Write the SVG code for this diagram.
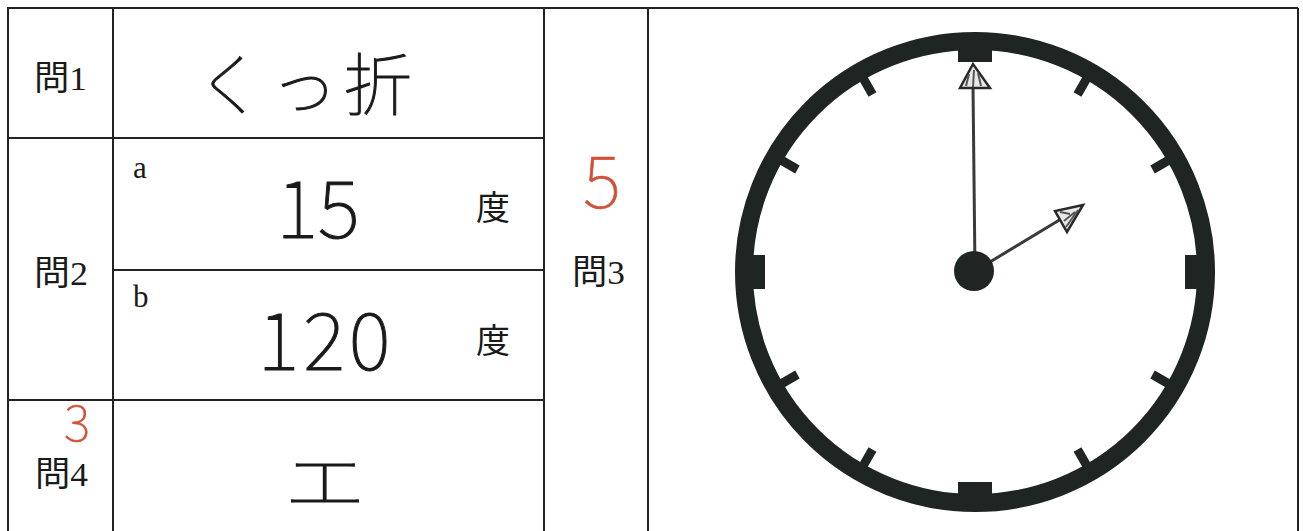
<svg xmlns="http://www.w3.org/2000/svg" width="1303" height="531" viewBox="0 0 1303 531">
<style>
.ln{stroke:#222;stroke-width:2;fill:none}
.lbl{font-family:"Liberation Serif","Noto Sans CJK JP",serif;font-size:34px;fill:#1a1a1a}
.sm{font-family:"Liberation Serif",serif;font-size:31px;fill:#1a1a1a}
.hw{font-family:"Noto Sans CJK JP","Noto Sans",sans-serif;font-weight:100;fill:#1a1a1a;stroke:#1a1a1a;stroke-width:1}
.red{font-family:"Noto Sans CJK JP","Noto Sans",sans-serif;font-weight:100;fill:#d0503a;stroke:#d0503a;stroke-width:0.6}
.dk{fill:#1f2523}
.hand{stroke:#3a3a3a;stroke-width:3;fill:none}
</style>
<rect width="1303" height="531" fill="#ffffff"/>
<g id="grid">
<line class="ln" x1="7" y1="8" x2="1298" y2="8"/>
<line class="ln" x1="8" y1="8" x2="8" y2="531"/>
<line class="ln" x1="113" y1="8" x2="113" y2="531"/>
<line class="ln" x1="544" y1="8" x2="544" y2="531"/>
<line class="ln" x1="648" y1="8" x2="648" y2="531"/>
<line class="ln" x1="1298" y1="8" x2="1298" y2="531"/>
<line class="ln" x1="8" y1="138" x2="544" y2="138"/>
<line class="ln" x1="113" y1="270" x2="544" y2="270"/>
<line class="ln" x1="8" y1="400" x2="544" y2="400"/>
</g>
<g id="q1">
<text class="lbl" x="34" y="90" textLength="53" lengthAdjust="spacingAndGlyphs">問1</text>
<text class="hw" x="307" y="110" font-size="68" text-anchor="middle" letter-spacing="6">くっ折</text>
</g>
<g id="q2">
<text class="lbl" x="34" y="285" textLength="54" lengthAdjust="spacingAndGlyphs">問2</text>
<text class="sm" x="133" y="178">a</text>
<text class="sm" x="133" y="307">b</text>
<text class="hw" x="318" y="238" font-size="80" text-anchor="middle">15</text>
<text class="hw" x="326" y="370" font-size="80" text-anchor="middle" letter-spacing="4">120</text>
<text class="lbl" x="493" y="220" font-size="32" text-anchor="middle">度</text>
<text class="lbl" x="493" y="353" font-size="32" text-anchor="middle">度</text>
</g>
<g id="q3">
<text class="red" x="602" y="208" font-size="72" text-anchor="middle">5</text>
<text class="lbl" x="572" y="284" textLength="53" lengthAdjust="spacingAndGlyphs">問3</text>
</g>
<g id="q4">
<text class="red" x="77" y="441" font-size="50" text-anchor="middle">3</text>
<text class="lbl" x="35" y="486" textLength="53" lengthAdjust="spacingAndGlyphs">問4</text>
<text class="hw" x="284" y="505" font-size="64" textLength="82" lengthAdjust="spacingAndGlyphs">エ</text>
</g>
<g id="clock">
<circle cx="975" cy="272" r="231" fill="none" stroke="#1f2523" stroke-width="18"/>
<g transform="translate(975,272)" class="dk">
<rect x="-17" y="-226" width="34" height="16"/>
<rect x="-17" y="-226" width="34" height="16" transform="rotate(90)"/>
<rect x="-17" y="-226" width="34" height="16" transform="rotate(180)"/>
<rect x="-17" y="-226" width="34" height="16" transform="rotate(270)"/>
<rect x="-4.5" y="-226" width="9" height="21" transform="rotate(30)"/>
<rect x="-4.5" y="-226" width="9" height="21" transform="rotate(60)"/>
<rect x="-4.5" y="-226" width="9" height="21" transform="rotate(120)"/>
<rect x="-4.5" y="-226" width="9" height="21" transform="rotate(150)"/>
<rect x="-4.5" y="-226" width="9" height="21" transform="rotate(210)"/>
<rect x="-4.5" y="-226" width="9" height="21" transform="rotate(240)"/>
<rect x="-4.5" y="-226" width="9" height="21" transform="rotate(300)"/>
<rect x="-4.5" y="-226" width="9" height="21" transform="rotate(330)"/>
</g>
</g>
<g id="hands">
<line class="hand" x1="975" y1="270" x2="973" y2="86"/>
<path d="M973,64 L960,88 L990,88 Z" fill="#e8e8e8" stroke="#2a2a2a" stroke-width="2.5"/>
<path d="M969,74 L966,86 M974,70 L973,87 M978,73 L981,86" stroke="#555" stroke-width="2" fill="none"/>
<line class="hand" x1="980" y1="268" x2="1066" y2="216"/>
<path d="M1083,205 L1055,211 L1067,232 Z" fill="#e8e8e8" stroke="#2a2a2a" stroke-width="2.5"/>
<path d="M1060,212 L1070,214 M1064,221 L1075,212 M1066,227 L1078,210" stroke="#555" stroke-width="2" fill="none"/>
<circle cx="974" cy="271" r="20" class="dk"/>
</g>
</svg>
